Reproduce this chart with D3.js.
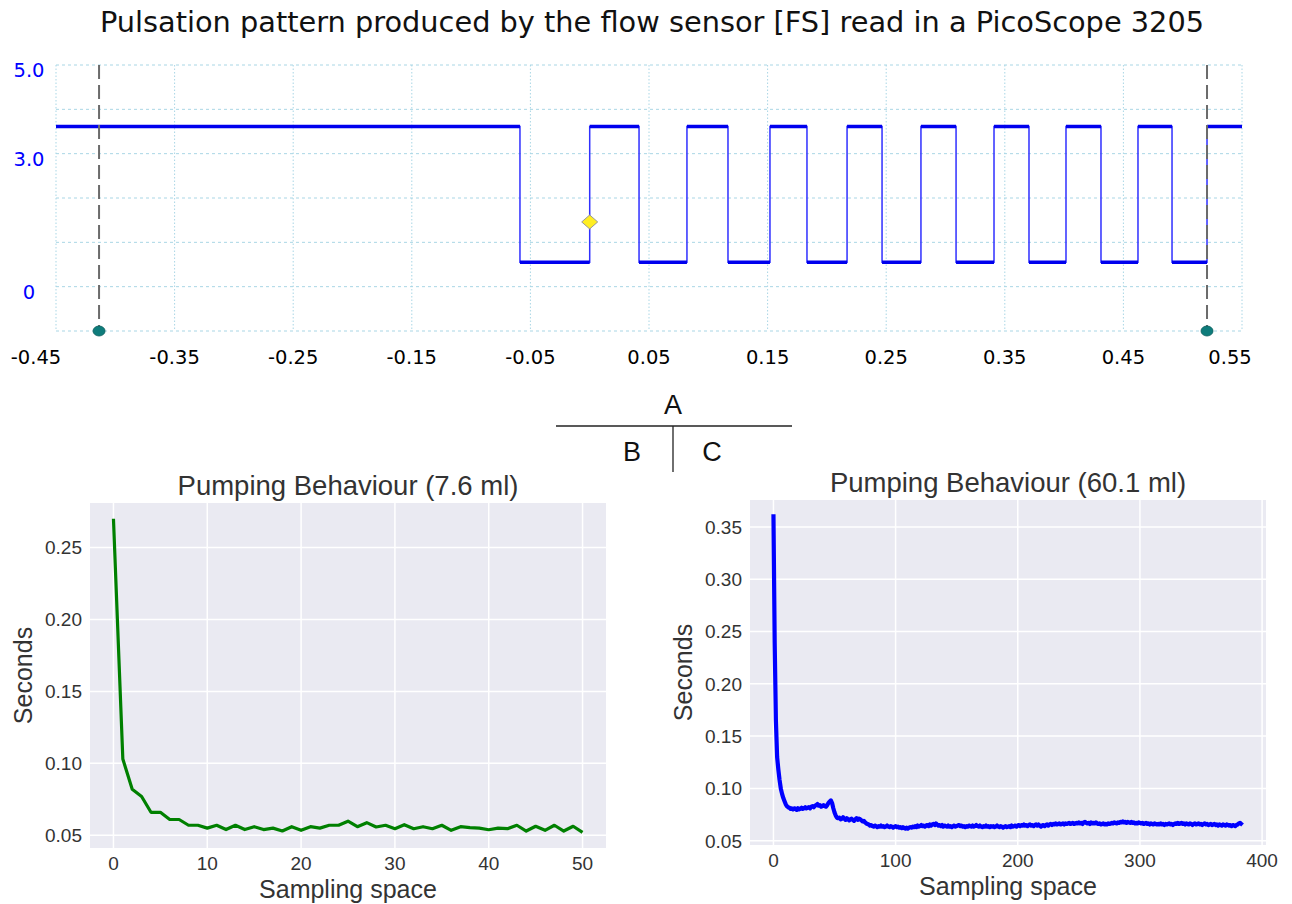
<!DOCTYPE html>
<html>
<head>
<meta charset="utf-8">
<script src="https://cdn.jsdelivr.net/npm/d3@7"></script>
<style>
  body { margin: 0; background: #fff; }
  svg { display: block; }
</style>
</head>
<body>
<svg id="chart" width="1292" height="904"></svg>
<script>
// ---------- data: scope trace (A) ----------
const scopeTitle = 'Pulsation pattern produced by the flow sensor [FS] read in a PicoScope 3205'
const scopeTicksX = [-0.45, -0.35, -0.25, -0.15, -0.05, 0.05, 0.15, 0.25, 0.35, 0.45, 0.55]
const scopeGridX = [-0.45, -0.35, -0.25, -0.15, -0.05, 0.05, 0.15, 0.25, 0.35, 0.45, 0.55]
const scopeGridY = [5, 4, 3, 2, 1, 0, -1]
const scopeLabelsY = [{ v: 5, text: '5.0' }, { v: 3, text: '3.0' }, { v: 0, text: '0' }]
// edge times in seconds, alternating falling / rising, starting high
const edgeTimes = [-0.0588, 0.0, 0.0416, 0.0820, 0.1166, 0.1520, 0.1832, 0.2170,
  0.2465, 0.2793, 0.3089, 0.3409, 0.3704, 0.4016, 0.4311, 0.4623, 0.4910, 0.5205]
const highLevel = 3.61
const lowLevel = 0.55
const cursorTimes = [-0.4137, 0.5205]
const triggerPoint = { t: 0.0, v: 1.46 }

// ---------- data: pumping behaviour (B) 7.6 ml ----------
const pumpBTitle = 'Pumping Behaviour (7.6 ml)'
const pumpB = [0.270, 0.103, 0.082, 0.077, 0.066, 0.066, 0.061, 0.061, 0.057, 0.057,
  0.055, 0.057, 0.054, 0.057, 0.054, 0.056, 0.054, 0.055, 0.053, 0.056,
  0.0535, 0.056, 0.055, 0.057, 0.057, 0.0598, 0.056, 0.0588, 0.0558, 0.057,
  0.0546, 0.0574, 0.0546, 0.056, 0.0546, 0.057, 0.0535, 0.056, 0.0553, 0.055,
  0.0539, 0.055, 0.0546, 0.057, 0.053, 0.0563, 0.0535, 0.057, 0.053, 0.0563, 0.0521]
const pumpBTicksX = [0, 10, 20, 30, 40, 50]
const pumpBTicksY = [0.05, 0.10, 0.15, 0.20, 0.25]

// ---------- data: pumping behaviour (C) 60.1 ml, milliseconds ----------
const pumpCTitle = 'Pumping Behaviour (60.1 ml)'
const pumpC_ms = [
  362, 240, 165, 130, 118, 108, 100, 95, 91, 88,
  85, 83, 82, 81.5, 80.5, 81, 80, 81, 80.5, 79.5,
  81, 80, 80.5, 81.5, 80.5, 81, 82, 81, 81.5, 82,
  81, 82.5, 83, 82, 83.5, 84, 85, 83.5, 84, 82.5,
  83, 84, 83, 82.5, 84, 86, 87.5, 88.5, 86, 81,
  77, 74, 72, 71.5, 72, 70.5, 71, 72.5, 71, 70,
  71.5, 70.5, 69.5, 70.5, 71, 70, 69, 70.5, 71.5, 70,
  71, 70.5, 69.5, 68.5, 69, 67.5, 66.5, 66, 65.5, 64.5,
  65, 64, 63.5, 64.5, 64, 63, 64, 63.5, 64.5, 63.5,
  64, 63, 63.5, 64.5, 63.5, 63, 64, 63.5, 62.5, 63.5,
  64, 63, 63.5, 62.5, 63, 62, 63, 62, 61.5, 62.5,
  61.5, 62.5, 63, 62.5, 63.5, 63, 64, 63, 64.5, 63.5,
  64, 65, 64, 64.5, 63.5, 64.5, 65, 64, 65.5, 64.5,
  65.5, 66, 65, 66.5, 65.5, 64.5, 65, 64, 65, 63.5,
  64.5, 64, 63.5, 64.5, 63.5, 64, 63, 64, 64.5, 63.5,
  64, 64.5, 65, 64, 64.5, 63.5, 64, 63, 64, 63.5,
  64.5, 64, 63.5, 64.5, 63.5, 64, 65, 64, 63.5, 64.5,
  63.5, 63, 64, 63.5, 64.5, 63.5, 64, 63, 64, 63.5,
  64, 63, 63.5, 64.5, 63.5, 63, 64, 63.5, 62.5, 63.5,
  64, 63, 63.5, 64, 63, 64.5, 63.5, 64, 64.5, 63.5,
  64.5, 65, 64, 65, 64.5, 65.5, 64.5, 65, 64, 65,
  65.5, 64.5, 65, 64, 65, 65.5, 64.5, 65.5, 64.5, 63.5,
  64.5, 65, 64, 65, 65.5, 64.5, 65.5, 66, 65, 66,
  65.5, 66.5, 65.5, 66, 66.5, 65.5, 66, 66.5, 65.5, 66.5,
  66, 66.5, 67, 66, 66.5, 67, 66, 66.5, 67, 66.5,
  67.5, 66.5, 67, 66, 67.5, 68, 67, 66.5, 67, 66,
  67.5, 66.5, 67, 66.5, 67.5, 66.5, 66, 66.5, 65.5, 66,
  66.5, 65.5, 66, 65.5, 66.5, 66, 66.5, 67, 66.5, 67.5,
  67, 66.5, 67.5, 67, 68, 67.5, 68.5, 67.5, 68, 67,
  68, 67.5, 67, 68, 67, 67.5, 66.5, 67, 66.5, 67.5,
  67, 66.5, 67, 66, 66.5, 67, 66, 66.5, 65.5, 66.5,
  66, 65.5, 66.5, 66, 65.5, 66, 65.5, 66.5, 65.5, 66,
  65, 66, 65.5, 66, 66.5, 65.5, 66, 65, 66, 66.5,
  66, 67, 66, 66.5, 67, 66, 66.5, 65.5, 66.5, 66,
  65.5, 66.5, 66, 65, 66, 66.5, 65.5, 66, 66.5, 65.5,
  66, 65, 66, 66.5, 65.5, 66, 65, 65.5, 66, 65,
  65.5, 66, 65, 65.5, 64.5, 65.5, 65, 64.5, 65.5, 65,
  64.5, 65.5, 65, 64.5, 65, 64, 65, 64.5, 64, 65,
  65.5, 66.5, 67, 66, 65]
const pumpCTicksX = [0, 100, 200, 300, 400]
const pumpCTicksY = [0.05, 0.10, 0.15, 0.20, 0.25, 0.30, 0.35]

const svg = d3.select('#chart')

// ================= Panel A: oscilloscope =================
svg.append('text')
  .attr('x', 652).attr('y', 32)
  .attr('text-anchor', 'middle')
  .attr('font-family', 'DejaVu Sans')
  .attr('font-size', 28.8)
  .attr('fill', '#111')
  .text(scopeTitle)

const sx = d3.scaleLinear().domain([-0.45, 0.55]).range([56, 1242])
const sy = d3.scaleLinear().domain([-1, 5]).range([331, 65])
const scope = svg.append('g')

// grid
scope.selectAll('.hgrid').data(scopeGridY).join('line')
  .attr('x1', sx(-0.45)).attr('x2', sx(0.55))
  .attr('y1', d => sy(d)).attr('y2', d => sy(d))
  .attr('stroke', '#a9d6e5').attr('stroke-width', 1)
  .attr('stroke-dasharray', '3,3')
scope.selectAll('.vgrid').data(scopeGridX).join('line')
  .attr('x1', d => sx(d)).attr('x2', d => sx(d))
  .attr('y1', sy(5)).attr('y2', sy(-1))
  .attr('stroke', '#a9d6e5').attr('stroke-width', 1)
  .attr('stroke-dasharray', '1.5,2')

// axis labels
scope.selectAll('.xl').data(scopeTicksX).join('text')
  .attr('x', (d, i) => sx(d) + (i === 0 ? -20 : i === scopeTicksX.length - 1 ? -12 : 0))
  .attr('y', 364)
  .attr('text-anchor', 'middle')
  .attr('font-family', 'DejaVu Sans')
  .attr('font-size', 19.5)
  .attr('fill', '#000')
  .text(d => d.toFixed(2))
scope.selectAll('.yl').data(scopeLabelsY).join('text')
  .attr('x', 29)
  .attr('y', d => sy(d.v) + 12)
  .attr('text-anchor', 'middle')
  .attr('font-family', 'DejaVu Sans')
  .attr('font-size', 19.5)
  .attr('fill', '#0000ff')
  .text(d => d.text)

// step trace
const tracePts = [{ t: -0.45, v: highLevel }]
edgeTimes.forEach((t, i) => tracePts.push({ t, v: i % 2 === 0 ? lowLevel : highLevel }))
tracePts.push({ t: 0.55, v: highLevel })

scope.append('path')
  .datum(tracePts)
  .attr('fill', 'none')
  .attr('stroke', '#3030ff')
  .attr('stroke-width', 1.5)
  .attr('d', d3.line().x(d => sx(d.t)).y(d => sy(d.v)).curve(d3.curveStepAfter))

// flat levels drawn heavier, as on the scope screen
const levelSegs = d3.pairs(tracePts)
scope.selectAll('.lvl').data(levelSegs).join('line')
  .attr('x1', d => sx(d[0].t)).attr('x2', d => sx(d[1].t))
  .attr('y1', d => sy(d[0].v)).attr('y2', d => sy(d[0].v))
  .attr('stroke', '#0000ee').attr('stroke-width', 3.5)

// cursors
scope.selectAll('.cur').data(cursorTimes).join('line')
  .attr('x1', d => sx(d)).attr('x2', d => sx(d))
  .attr('y1', sy(5)).attr('y2', sy(-1))
  .attr('stroke', '#6b6b6b').attr('stroke-width', 2)
  .attr('stroke-dasharray', '14,6')
scope.selectAll('.dot').data(cursorTimes).join('ellipse')
  .attr('cx', d => sx(d)).attr('cy', sy(-1))
  .attr('rx', 6).attr('ry', 5)
  .attr('fill', '#0e7c7b').attr('stroke', '#0a5d5c').attr('stroke-width', 0.8)

// trigger marker
const tx = sx(triggerPoint.t), ty = sy(triggerPoint.v)
scope.append('path')
  .attr('d', `M${tx - 8},${ty} L${tx},${ty - 7} L${tx + 8},${ty} L${tx},${ty + 7} Z`)
  .attr('fill', '#ffee22').attr('stroke', '#999').attr('stroke-width', 1)

// ================= A / B | C key =================
const key = svg.append('g').attr('font-family', 'Liberation Sans').attr('font-size', 27).attr('fill', '#111')
key.append('text').attr('x', 673).attr('y', 414).attr('text-anchor', 'middle').text('A')
key.append('text').attr('x', 632).attr('y', 461).attr('text-anchor', 'middle').text('B')
key.append('text').attr('x', 712).attr('y', 461).attr('text-anchor', 'middle').text('C')
key.append('line').attr('x1', 556).attr('x2', 792).attr('y1', 426).attr('y2', 426)
  .attr('stroke', '#222').attr('stroke-width', 1.3)
key.append('line').attr('x1', 673).attr('x2', 673).attr('y1', 426).attr('y2', 472)
  .attr('stroke', '#222').attr('stroke-width', 1.3)

// ================= seaborn-style panels =================
function seabornPanel(opts) {
  const { left, right, top, bottom, xDomain, yDomain, xTicks, yTicks, data, color, width, title, yFmt } = opts
  const x = d3.scaleLinear().domain(xDomain).range([left, right])
  const y = d3.scaleLinear().domain(yDomain).range([bottom, top])
  const g = svg.append('g')

  g.append('rect')
    .attr('x', left).attr('y', top)
    .attr('width', right - left).attr('height', bottom - top)
    .attr('fill', '#eaeaf2')

  g.selectAll('.gx').data(xTicks).join('line')
    .attr('x1', d => x(d)).attr('x2', d => x(d))
    .attr('y1', top).attr('y2', bottom)
    .attr('stroke', '#fff').attr('stroke-width', 1.5)
  g.selectAll('.gy').data(yTicks).join('line')
    .attr('x1', left).attr('x2', right)
    .attr('y1', d => y(d)).attr('y2', d => y(d))
    .attr('stroke', '#fff').attr('stroke-width', 1.5)

  const font = 'Liberation Sans'
  g.selectAll('.tx').data(xTicks).join('text')
    .attr('x', d => x(d)).attr('y', bottom + 22)
    .attr('text-anchor', 'middle')
    .attr('font-family', font).attr('font-size', 19).attr('fill', '#333')
    .text(d => d)
  g.selectAll('.ty').data(yTicks).join('text')
    .attr('x', left - 8).attr('y', d => y(d) + 7)
    .attr('text-anchor', 'end')
    .attr('font-family', font).attr('font-size', 19).attr('fill', '#333')
    .text(yFmt)

  g.append('text')
    .attr('x', (left + right) / 2).attr('y', top - 8)
    .attr('text-anchor', 'middle')
    .attr('font-family', font).attr('font-size', 27.5).attr('fill', '#333')
    .text(title)
  g.append('text')
    .attr('x', (left + right) / 2).attr('y', bottom + 50)
    .attr('text-anchor', 'middle')
    .attr('font-family', font).attr('font-size', 25).attr('fill', '#333')
    .text('Sampling space')
  g.append('text')
    .attr('transform', `translate(${left - 58},${(top + bottom) / 2}) rotate(-90)`)
    .attr('text-anchor', 'middle')
    .attr('font-family', font).attr('font-size', 25).attr('fill', '#333')
    .text('Seconds')

  g.append('path')
    .datum(data)
    .attr('fill', 'none')
    .attr('stroke', color)
    .attr('stroke-width', width)
    .attr('stroke-linejoin', 'round')
    .attr('d', d3.line().x((d, i) => x(i)).y(d => y(d)))
}

seabornPanel({
  left: 90, right: 606, top: 503, bottom: 848,
  xDomain: [-2.5, 52.5], yDomain: [0.0412, 0.2809],
  xTicks: pumpBTicksX, yTicks: pumpBTicksY,
  data: pumpB, color: '#008000', width: 3.2,
  title: pumpBTitle, yFmt: d => d.toFixed(2)
})

seabornPanel({
  left: 750, right: 1266, top: 500, bottom: 845,
  xDomain: [-19.2, 403.2], yDomain: [0.0459, 0.3757],
  xTicks: pumpCTicksX, yTicks: pumpCTicksY,
  data: pumpC_ms.map(v => v / 1000), color: '#0000ff', width: 4.2,
  title: pumpCTitle, yFmt: d => d.toFixed(2)
})
</script>
</body>
</html>
